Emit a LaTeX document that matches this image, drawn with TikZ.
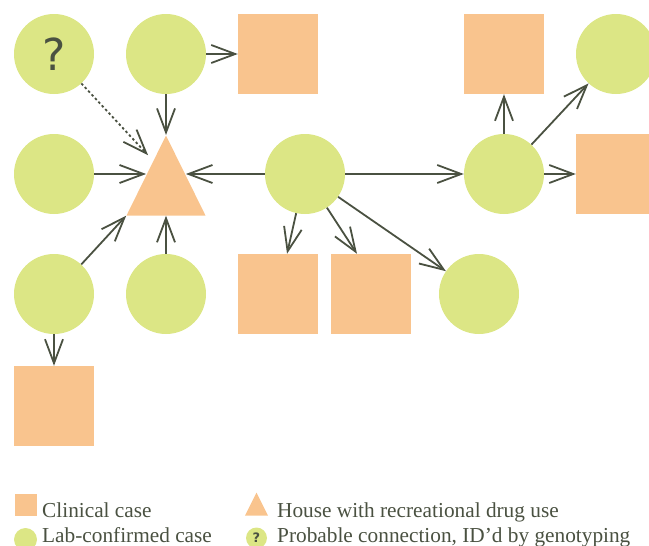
\documentclass[tikz,border=0pt]{standalone}
\usepackage{fontspec}
\setmainfont{Liberation Serif}
\newfontfamily\qfont{DejaVu Sans}
\usetikzlibrary{shapes.geometric,arrows.meta,calc}
\definecolor{labgreen}{HTML}{DCE685}
\definecolor{clinorange}{HTML}{F9C48E}
\definecolor{inkgrey}{HTML}{4A5141}

\begin{document}
\begin{tikzpicture}[
  x = 1pt, y = -1pt,
  lab/.style = {circle, fill = labgreen, minimum size = 80pt, inner sep = 0pt},
  clin/.style = {rectangle, fill = clinorange, minimum size = 80pt, inner sep = 0pt},
  house/.style = {isosceles triangle, isosceles triangle stretches, shape border rotate = 90,
    fill = clinorange, minimum width = 79pt, minimum height = 80pt, inner sep = 0pt},
  link/.style = {draw = inkgrey, line width = 1.8pt, -{Straight Barb[length = 24pt, width = 18pt]}},
  key/.style = {anchor = base west, text = inkgrey, inner sep = 0pt,
    font = \fontsize{21.3}{24}\selectfont}
  ]
  \clip (0,0) rectangle (649,546);
  % left group round the house
  \node[lab] (q) at (54,54) {\qfont\fontsize{44}{44}\selectfont\color{inkgrey}?};
  \node[lab] (c2) at (166,54) {};
  \node[clin] (s1) at (278,54) {};
  \node[lab] (c3) at (54,174) {};
  \node[house, anchor = apex] (tri) at (166,135) {};
  \node[lab] (c6) at (54,294) {};
  \node[lab] (c7) at (166,294) {};
  \node[clin] (s4) at (54,406) {};
  % middle and right
  \node[lab] (hub) at (305,174) {};
  \node[clin] (s2) at (278,294) {};
  \node[clin] (s3) at (371,294) {};
  \node[lab] (c8) at (479,294) {};
  \node[lab] (c5) at (504,174) {};
  \node[clin] (stop) at (504,54) {};
  \node[lab] (ctr) at (616,54) {};
  \node[clin] (sr) at (616,174) {};

  \draw[link] (c2) -- (s1);
  \draw[link] (c2) -- (tri.apex);
  \draw[link, dash pattern = on 2.5pt off 2.5pt] (q) -- ($(tri.apex)!0.25!(tri.left corner)+(-8,0)$);
  \draw[link] (c3) -- (c3 -| tri.left side);
  \draw[link] (hub) -- (hub -| tri.right side);
  \draw[link] (c6) -- (tri.left corner);
  \draw[link] (c7) -- (tri);
  \draw[link] (c6) -- (s4);
  \draw[link] (hub) -- (s2);
  \draw[link] (hub) -- ([xshift = -14pt]s3.north);
  \draw[link] (hub) -- (c8);
  \draw[link] (hub) -- (c5);
  \draw[link] (c5) -- (stop);
  \draw[link] (c5) -- (ctr);
  \draw[link] (c5) -- (sr);

  % legend
  \node[clin, minimum size = 22pt] (kclin) at (26,505) {};
  \node[lab, minimum size = 23pt] (klab) at (25.5,539.5) {};
  \node[house, minimum width = 23pt, minimum height = 23pt, anchor = apex] (khouse) at (256.5,492) {};
  \node[lab, minimum size = 21pt] (kq) at (256.5,538) {\qfont\bfseries\fontsize{13}{13}\selectfont\color{inkgrey}?};
  \node[key] (tclin) at (42,517) {Clinical case};
  \node[key] (tlab) at (42,542) {Lab-confirmed case};
  \node[key] (thouse) at (277,517) {House with recreational drug use};
  \node[key] (tq) at (277,542) {Probable connection, ID'd by genotyping};
\end{tikzpicture}
\end{document}
